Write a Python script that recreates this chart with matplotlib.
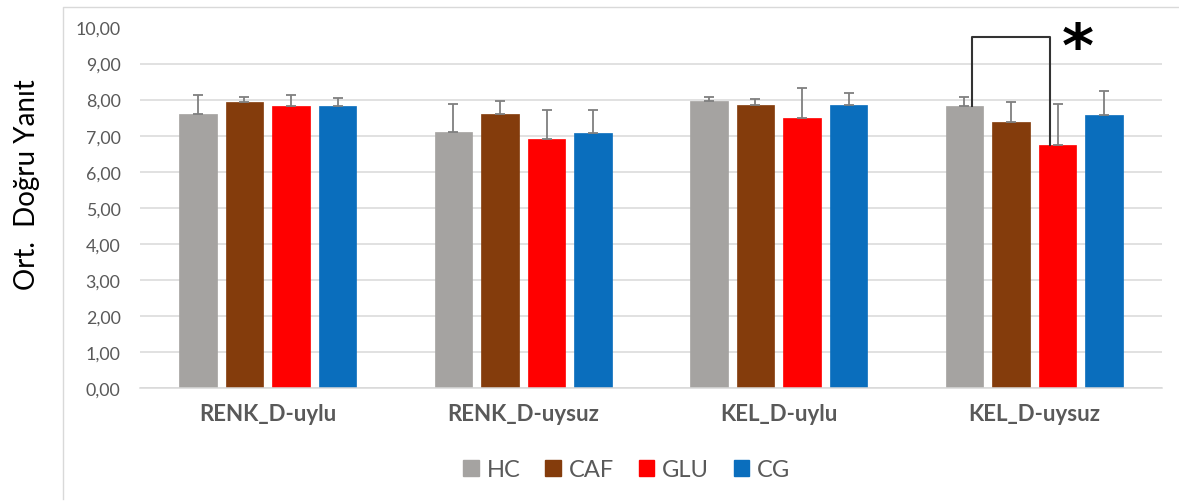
import matplotlib
matplotlib.use("Agg")
import matplotlib.pyplot as plt
from matplotlib.lines import Line2D
from matplotlib.patches import Patch
import numpy as np

categories = ["RENK_D-uylu", "RENK_D-uysuz", "KEL_D-uylu", "KEL_D-uysuz"]
series = ["HC", "CAF", "GLU", "CG"]
means = {
    "HC":  [7.60, 7.10, 7.96, 7.82],
    "CAF": [7.93, 7.61, 7.84, 7.37],
    "GLU": [7.81, 6.91, 7.50, 6.73],
    "CG":  [7.82, 7.08, 7.85, 7.56],
}
err_tops = {
    "HC":  [8.14, 7.89, 8.07, 8.06],
    "CAF": [8.07, 7.95, 8.01, 7.94],
    "GLU": [8.12, 7.72, 8.31, 7.87],
    "CG":  [8.05, 7.72, 8.19, 8.25],
}
colors = {"HC": "#A5A3A1", "CAF": "#843C0C", "GLU": "#FF0000", "CG": "#0A6EBD"}
yticks = [0, 1, 2, 3, 4, 5, 6, 7, 8, 9, 10]
ytick_labels = ["0,00", "1,00", "2,00", "3,00", "4,00", "5,00", "6,00", "7,00", "8,00", "9,00", "10,00"]
ylabel = "Ort.  Doğru Yanıt"
sig_group = 3
sig_pair = ("HC", "GLU")
bracket_top = 9.74

plt.rcParams['font.family'] = ['Lato', 'DejaVu Sans']

fig = plt.figure(figsize=(11.79, 5.02), dpi=100)
W, H = 1179, 502
ax = fig.add_axes([140 / W, (502 - 389) / H, (1162 - 140) / W, (389 - 28.5) / H])

x = np.arange(len(categories))
step = 0.182
width = 0.145
for i, s in enumerate(series):
    xs = x + (i - 1.5) * step
    m = np.array(means[s])
    e = np.array(err_tops[s]) - m
    ax.bar(xs, m, width=width, color=colors[s], zorder=2, label=s,
           edgecolor=colors[s], linewidth=0.5)
    ax.errorbar(xs, m, yerr=[np.zeros_like(e), e], fmt='none', ecolor='#7F7F7F',
                elinewidth=1.3, capsize=3.5, capthick=1.3, zorder=3)

ax.set_xlim(-0.5, len(categories) - 0.5)
ax.set_ylim(0, 10)
ax.set_yticks(yticks)
ax.set_yticklabels(ytick_labels)
ax.set_xticks(x)
ax.set_xticklabels(categories, fontweight='bold')
ax.tick_params(axis='y', length=0, pad=14, labelsize=12.8, labelcolor='#595959')
ax.tick_params(axis='x', length=0, pad=11, labelsize=16, labelcolor='#595959')
ax.grid(axis='y', color='#D9D9D9', linewidth=1.1, zorder=0)
ax.set_axisbelow(True)
for sp in ['top', 'right', 'left']:
    ax.spines[sp].set_visible(False)
ax.spines['bottom'].set_color('#D9D9D9')
ax.spines['bottom'].set_linewidth(1.1)

# significance bracket
i1 = series.index(sig_pair[0])
i2 = series.index(sig_pair[1])
off = 0.031
xl = sig_group + (i1 - 1.5) * step + off
xr = sig_group + (i2 - 1.5) * step - off
yl = means[sig_pair[0]][sig_group]
yr = means[sig_pair[1]][sig_group]
ax.plot([xl, xl, xr, xr], [yl, bracket_top, bracket_top, yr], color='#333333',
        linewidth=1.5, zorder=4, clip_on=False)
ax.text(xr + 0.11, bracket_top - 0.80, "*", fontsize=44, fontweight='bold',
        ha='center', va='baseline', color='black', family='DejaVu Sans', clip_on=False)

# y label
fig.text(27 / W, (502 - 185) / H, ylabel, rotation=90, ha='center', va='center',
         fontsize=20, color='black')

# legend
handles = [Patch(facecolor=colors[s], edgecolor=colors[s]) for s in series]
fig.legend(handles, series, loc='center', bbox_to_anchor=(627 / W, (502 - 471) / H),
           ncol=4, frameon=False, fontsize=17, labelcolor='#595959',
           handlelength=0.65, handleheight=0.65, handletextpad=0.34, columnspacing=1.05)

# outer frame
fig.add_artist(Line2D([63 / W, 63 / W, 1.0], [2 / H, (502 - 8) / H, (502 - 8) / H],
                      color='#D9D9D9', linewidth=1.0, transform=fig.transFigure))

fig.savefig("out.png", dpi=100)
